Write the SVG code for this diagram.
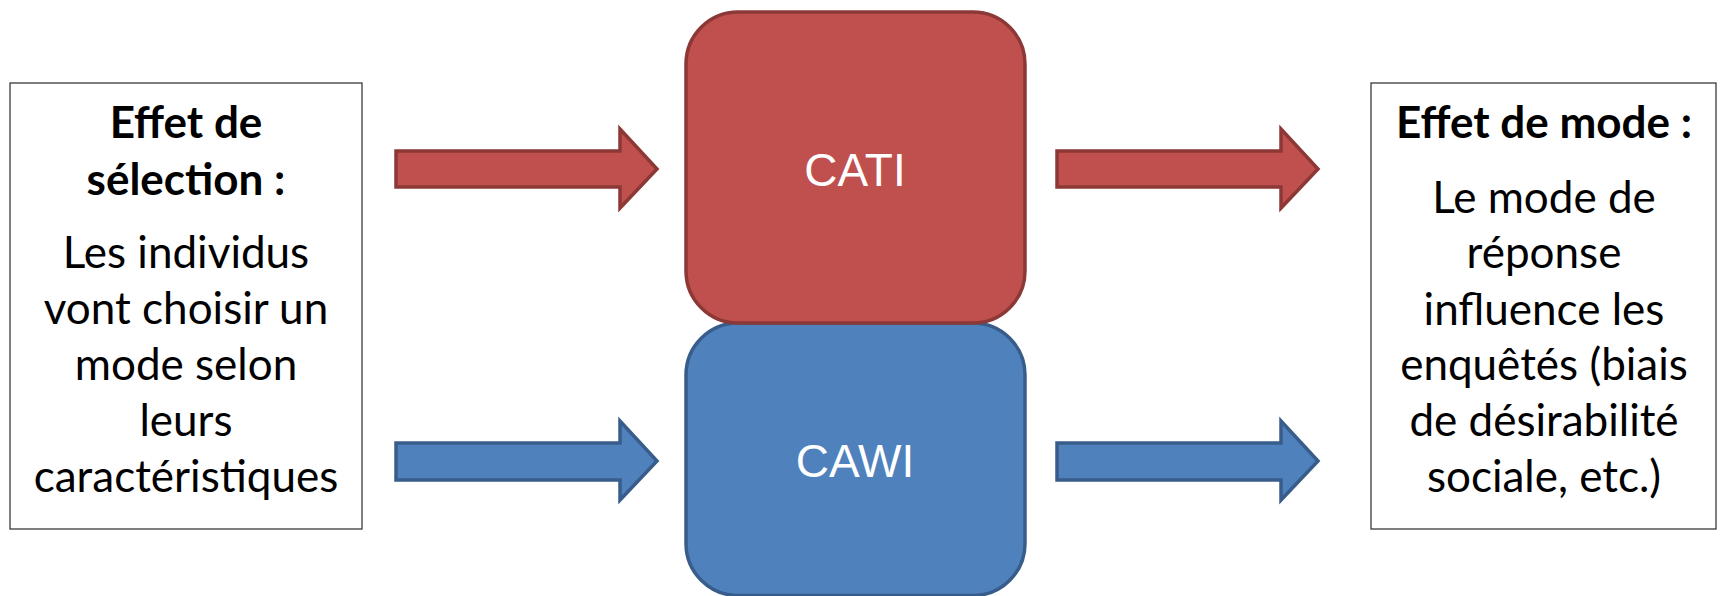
<svg xmlns="http://www.w3.org/2000/svg" width="1727" height="596" viewBox="0 0 1727 596">
<style>
.box{fill:#fff;stroke:#3a3a3a;stroke-width:1.3}
.red{fill:#C0504D;stroke:#8C3836;stroke-width:3.5}
.blue{fill:#4F81BD;stroke:#385D8A;stroke-width:3.5}
.t{font-family:Lato,"Open Sans",sans-serif;font-size:44px;fill:#000;text-anchor:middle}
.h{font-weight:bold}
.w{font-family:"Liberation Sans",Arial,sans-serif;font-size:46px;fill:#fff;text-anchor:middle}
</style>
<rect width="1727" height="596" fill="#fff"/>
<g id="connectors">
<polygon class="red" points="396,151 620,151 620,129 657,169 620,208 620,187 396,187"/>
<polygon class="blue" points="396,443 620,443 620,421 657,461 620,500 620,480 396,480"/>
<polygon class="red" points="1057,151 1281,151 1281,129 1318,169 1281,208 1281,187 1057,187"/>
<polygon class="blue" points="1057,443 1281,443 1281,421 1318,461 1281,500 1281,480 1057,480"/>
</g>
<g id="selection">
<rect class="box" x="10" y="83" width="352" height="446"/>
<text class="t h" x="186" y="138">Effet de</text>
<text class="t h" x="186" y="195">sélection :</text>
<text class="t" x="186" y="268">Les individus</text>
<text class="t" x="186" y="324">vont choisir un</text>
<text class="t" x="186" y="380">mode selon</text>
<text class="t" x="186" y="436">leurs</text>
<text class="t" x="186" y="492">caractéristiques</text>
</g>
<g id="cawi">
<rect class="blue" x="686" y="323" width="339" height="272.5" rx="52"/>
<text class="w" x="855" y="477">CAWI</text>
</g>
<g id="cati">
<rect class="red" x="686" y="12" width="339" height="311" rx="52"/>
<text class="w" x="855" y="186">CATI</text>
</g>
<g id="mode">
<rect class="box" x="1371" y="83" width="345" height="446"/>
<text class="t h" x="1544" y="138">Effet de mode :</text>
<text class="t" x="1544" y="213">Le mode de</text>
<text class="t" x="1544" y="268">réponse</text>
<text class="t" x="1544" y="325">influence les</text>
<text class="t" x="1544" y="380">enquêtés (biais</text>
<text class="t" x="1544" y="436">de désirabilité</text>
<text class="t" x="1544" y="492">sociale, etc.)</text>
</g>
</svg>
